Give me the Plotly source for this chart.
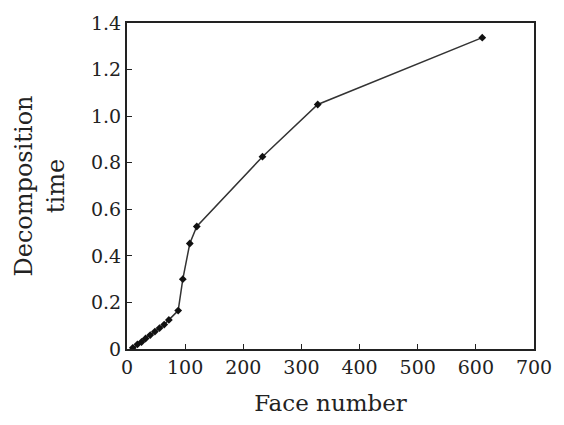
import plotly.graph_objects as go

face_number = [10, 18, 25, 32, 40, 48, 56, 64, 72, 88, 96, 108, 120, 233, 328, 611]
decomp_time = [0.005, 0.02, 0.03, 0.045, 0.06, 0.075, 0.09, 0.105, 0.125, 0.165, 0.30, 0.453, 0.526, 0.826, 1.05, 1.337]

x_ticks = [0, 100, 200, 300, 400, 500, 600, 700]
y_ticks = [0, 0.2, 0.4, 0.6, 0.8, 1.0, 1.2, 1.4]
y_tick_labels = ["0", "0.2", "0.4", "0.6", "0.8", "1.0", "1.2", "1.4"]

font_family = "DejaVu Serif, Liberation Serif, serif"

fig = go.Figure()
fig.add_trace(go.Scatter(
    x=face_number, y=decomp_time, mode="lines+markers",
    line=dict(color="#333333", width=1.5),
    marker=dict(symbol="diamond", size=6, color="#111111"),
    showlegend=False,
))

fig.update_layout(
    width=564, height=425,
    margin=dict(l=127, r=26, t=21, b=76),
    paper_bgcolor="white", plot_bgcolor="white",
    font=dict(family=font_family, size=19, color="#222222"),
    xaxis=dict(
        range=[0, 700], tickvals=x_ticks, ticks="inside", ticklen=5,
        tickcolor="#222222", showgrid=False, zeroline=False,
        showline=True, linecolor="#222222", linewidth=2, mirror=True,
        title=dict(text="Face number", font=dict(size=23), standoff=18),
    ),
    yaxis=dict(
        range=[0, 1.4], tickvals=y_ticks, ticktext=y_tick_labels, ticks="inside", ticklen=5,
        tickcolor="#222222", showgrid=False, zeroline=False,
        showline=True, linecolor="#222222", linewidth=2, mirror=True,
        title=dict(text="Decomposition<br>time", font=dict(size=24), standoff=20),
    ),
)

fig.write_html("out.html", config={"displayModeBar": False},
               post_script="document.body.style.margin='0px';")
